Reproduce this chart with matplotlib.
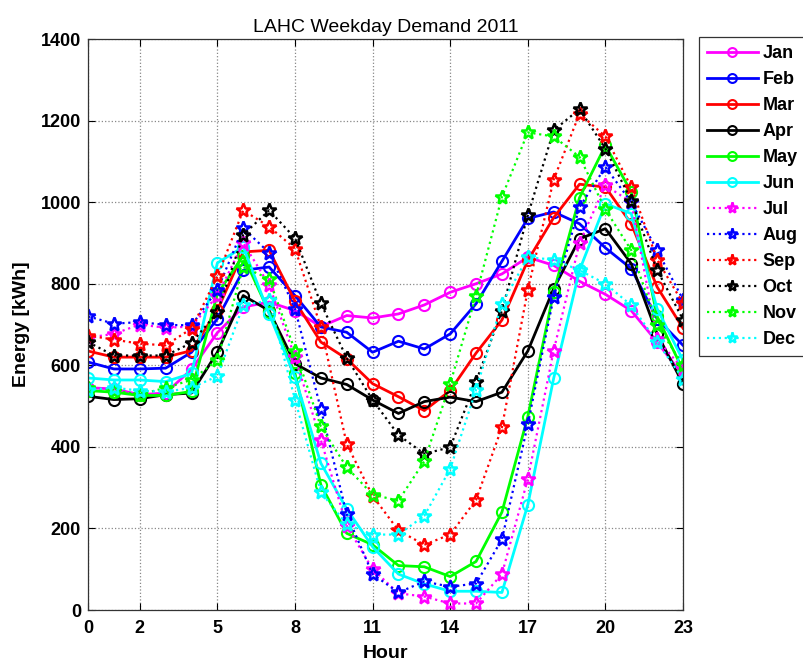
import matplotlib
matplotlib.use("Agg")
import matplotlib.pyplot as plt

plt.rcParams['font.family'] = ['Liberation Sans', 'DejaVu Sans']

hours = list(range(24))
months = ["Jan", "Feb", "Mar", "Apr", "May", "Jun",
          "Jul", "Aug", "Sep", "Oct", "Nov", "Dec"]

jan = [545, 542, 528, 532, 590, 680, 743, 755, 734, 695, 722, 716,
       726, 748, 779, 800, 824, 865, 845, 806, 774, 734, 657, 575]
feb = [608, 591, 591, 593, 632, 714, 833, 841, 771, 694, 681, 632,
       659, 640, 677, 751, 855, 960, 976, 947, 888, 837, 714, 649]
mar = [635, 620, 620, 620, 636, 735, 878, 882, 757, 657, 616, 555,
       523, 489, 538, 630, 711, 857, 962, 1044, 1037, 947, 792, 691]
apr = [524, 516, 518, 528, 532, 632, 771, 734, 604, 569, 553, 515,
       482, 511, 522, 511, 534, 635, 788, 910, 935, 849, 677, 555]
may = [538, 534, 526, 526, 536, 775, 869, 730, 580, 307, 188, 160,
       109, 106, 82, 119, 240, 474, 779, 1011, 1139, 1025, 720, 588]
jun = [569, 564, 564, 560, 580, 851, 890, 726, 571, 360, 248, 155,
       88, 64, 46, 46, 43, 258, 568, 833, 996, 972, 739, 612]
jul = [668, 677, 700, 692, 695, 771, 900, 797, 620, 417, 207, 100,
       41, 33, 16, 16, 88, 321, 636, 900, 1041, 1000, 665, 590]
aug = [720, 702, 706, 699, 698, 785, 936, 876, 739, 493, 235, 88,
       43, 70, 57, 65, 173, 455, 767, 988, 1086, 1000, 882, 761]
sep = [673, 663, 653, 649, 690, 818, 980, 940, 886, 694, 407, 280,
       195, 160, 185, 270, 448, 785, 1055, 1217, 1161, 1037, 859, 752]
oct_ = [657, 624, 624, 624, 655, 730, 920, 980, 912, 752, 618, 515,
        429, 383, 399, 560, 734, 968, 1176, 1228, 1131, 1004, 834, 712]
nov = [545, 538, 528, 545, 564, 613, 841, 812, 636, 450, 350, 283,
       268, 365, 555, 771, 1013, 1171, 1161, 1111, 982, 882, 700, 600]
dec = [540, 545, 538, 535, 545, 573, 747, 759, 516, 289, 210, 185,
       185, 231, 346, 540, 751, 865, 859, 833, 800, 747, 657, 567]

series = [jan, feb, mar, apr, may, jun, jul, aug, sep, oct_, nov, dec]
colors = ["#ff00ff", "#0000ff", "#ff0000", "#000000", "#00ff00", "#00ffff"] * 2

xticks = [0, 2, 5, 8, 11, 14, 17, 20, 23]
yticks = [0, 200, 400, 600, 800, 1000, 1200, 1400]

fig = plt.figure(figsize=(8.04, 6.68), dpi=100)
ax = fig.add_axes([0.1095, 0.0868, 0.7400, 0.8548])

for i, (name, vals) in enumerate(zip(months, series)):
    if i < 6:
        ax.plot(hours, vals, color=colors[i], linestyle='-', linewidth=2,
                marker='o', markersize=8, markerfacecolor='none',
                markeredgewidth=1.5, label=name)
    else:
        ax.plot(hours, vals, color=colors[i], linestyle=':', linewidth=1.6,
                marker='*', markersize=10, markerfacecolor='none',
                markeredgewidth=1.8, label=name)

ax.set_xlim(0, 23)
ax.set_ylim(0, 1400)
ax.set_xticks(xticks)
ax.set_yticks(yticks)
ax.tick_params(direction='in', length=5, labelsize=13, top=True, right=True)
ax.tick_params(axis='x', pad=7)
ax.tick_params(axis='y', pad=5)
for lbl in ax.get_xticklabels() + ax.get_yticklabels():
    lbl.set_fontweight('bold')
ax.grid(True, linestyle=':', color='#888888', linewidth=0.9)
ax.set_axisbelow(True)
for s in ax.spines.values():
    s.set_color('#333333')
    s.set_linewidth(0.9)

ax.set_xlabel("Hour", fontsize=14, fontweight='bold', labelpad=6)
ax.set_ylabel("Energy [kWh]", fontsize=14, fontweight='bold', labelpad=8)
ax.set_title("LAHC Weekday Demand 2011", fontsize=14, pad=5)

leg = ax.legend(loc='upper left', bbox_to_anchor=(1.027, 1.004),
                fancybox=False, framealpha=1, edgecolor='#333333',
                fontsize=13, handlelength=2.8, labelspacing=0.5,
                borderaxespad=0, borderpad=0.45, handletextpad=0.25,
                markerscale=0.8)
for t in leg.get_texts():
    t.set_fontweight('bold')
leg.get_frame().set_linewidth(0.9)

fig.savefig("out.png", dpi=100)
